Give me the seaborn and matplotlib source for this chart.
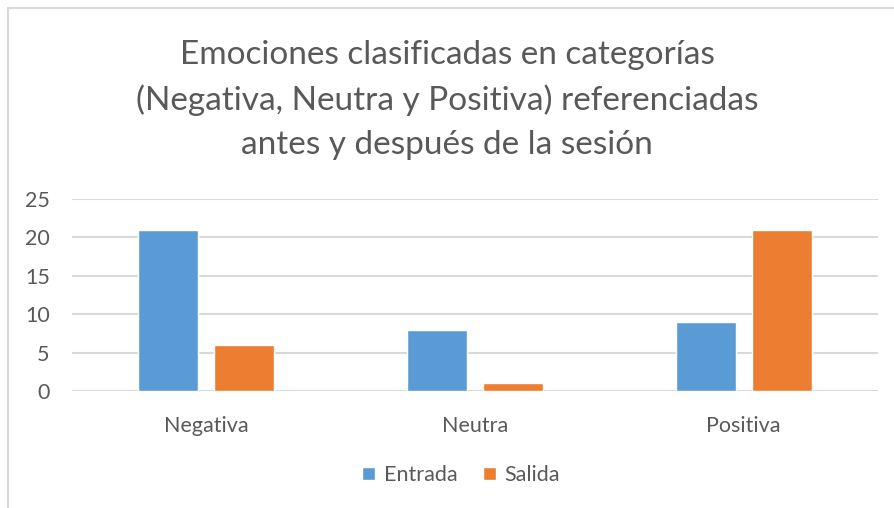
import matplotlib
matplotlib.use("Agg")
import matplotlib.pyplot as plt
import seaborn as sns
import pandas as pd
from matplotlib.patches import Rectangle, Patch

# Datos
categorias = ["Negativa", "Neutra", "Positiva"]
entrada = [21, 8, 9]
salida = [6, 1, 21]
series = ["Entrada", "Salida"]

df = pd.DataFrame({
    "categoria": categorias * 2,
    "valor": entrada + salida,
    "serie": ["Entrada"] * 3 + ["Salida"] * 3,
})

sns.set_style("white")
plt.rcParams["font.family"] = ["Lato", "DejaVu Sans"]
gris = "#595959"
colores = {"Entrada": "#5b9bd5", "Salida": "#ed7d31"}

fig = plt.figure(figsize=(8.94, 5.08), dpi=100)
ax = fig.add_axes([72 / 894, 1 - 391 / 508, (878 - 72) / 894, (391 - 199) / 508])

# borde del gráfico
fig.patches.append(Rectangle((8 / 894, -0.1), 1.2, 1 - 8 / 508 + 0.1, transform=fig.transFigure,
                             fill=False, edgecolor="#d9d9d9", linewidth=1.5))

sns.barplot(data=df, x="categoria", y="valor", hue="serie", palette=colores,
            width=0.566, gap=0.21, ax=ax, legend=False, saturation=1)

ax.set_ylim(0, 25)
ax.set_yticks([0, 5, 10, 15, 20, 25])
ax.set_xlim(-0.5, 2.5)
ax.yaxis.grid(True, color="#d9d9d9", linewidth=1.5)
ax.set_axisbelow(True)
for s in ax.spines.values():
    s.set_visible(False)
ax.tick_params(axis="both", length=0, labelsize=15.5, labelcolor=gris)
ax.tick_params(axis="y", pad=16)
ax.tick_params(axis="x", pad=18)
ax.set_xlabel("")
ax.set_ylabel("")

fig.text(0.5, 1 - 100 / 508,
         "Emociones clasificadas en categorías\n(Negativa, Neutra y Positiva) referenciadas\nantes y después de la sesión",
         ha="center", va="center", fontsize=24, color=gris, linespacing=1.58)

handles = [Patch(facecolor=colores[s], label=s) for s in series]
fig.legend(handles=handles, loc="center", bbox_to_anchor=(461 / 894, 1 - 475 / 508), ncol=2,
           frameon=False, fontsize=15.5, labelcolor=gris, handlelength=0.6, handleheight=0.6,
           handletextpad=0.4, columnspacing=1.2)

fig.savefig("out.png", dpi=100)
